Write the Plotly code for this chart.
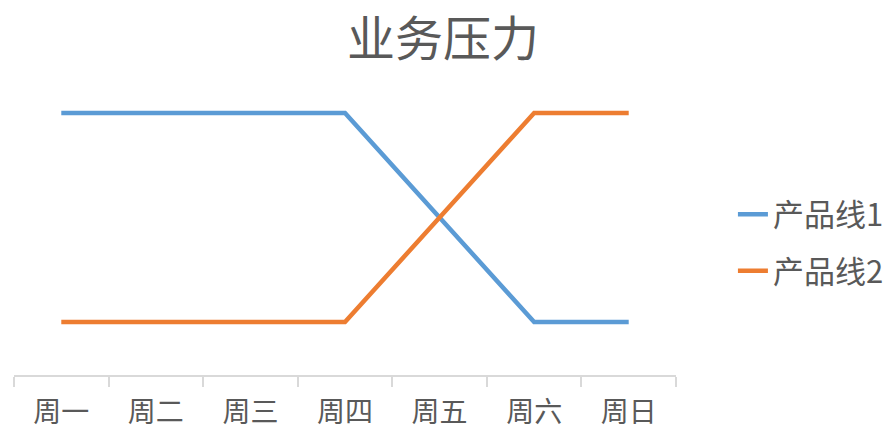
import plotly.graph_objects as go

days = ["周一", "周二", "周三", "周四", "周五", "周六", "周日"]
line1 = [2, 2, 2, 2, 1.5, 1, 1]
line2 = [1, 1, 1, 1, 1.5, 2, 2]
names = ["产品线1", "产品线2"]
colors = ["#5B9BD5", "#ED7D31"]

FONT = "Noto Sans CJK SC"
fig = go.Figure()
for i, (vals, nm, c) in enumerate(zip([line1, line2], names, colors)):
    fig.add_trace(go.Scatter(x=days, y=vals, mode="lines", name=nm,
                             legendgroup=nm,
                             line=dict(color=c, width=4.5)))

fig.update_layout(
    width=890, height=431,
    margin=dict(l=14, r=214, t=60, b=56, autoexpand=False),
    paper_bgcolor="white", plot_bgcolor="white",
    font=dict(family=FONT, color="#595959"),
    title=dict(text="业务压力", x=(443)/890, xanchor="center",
               y=1 - 39/431, yanchor="middle", yref="container",
               font=dict(size=48, color="#595959", family=FONT)),
    legend=dict(x=1.086, xanchor="left", y=0.42, yanchor="middle",
                font=dict(size=31, color="#595959", family=FONT),
                tracegroupgap=13, bgcolor="rgba(0,0,0,0)"),
    xaxis=dict(type="category", range=[-0.5, 6.5], showgrid=False,
               automargin=False,
               showline=True, linecolor="#D9D9D9", linewidth=1.5,
               ticks="outside", tickson="boundaries", ticklen=10,
               tickcolor="#D9D9D9", tickwidth=1.5, ticklabelstandoff=12,
               tickfont=dict(size=28, color="#595959", family=FONT)),
    yaxis=dict(range=[0.746, 2.254], visible=False),
)
fig.write_html("out.html")
